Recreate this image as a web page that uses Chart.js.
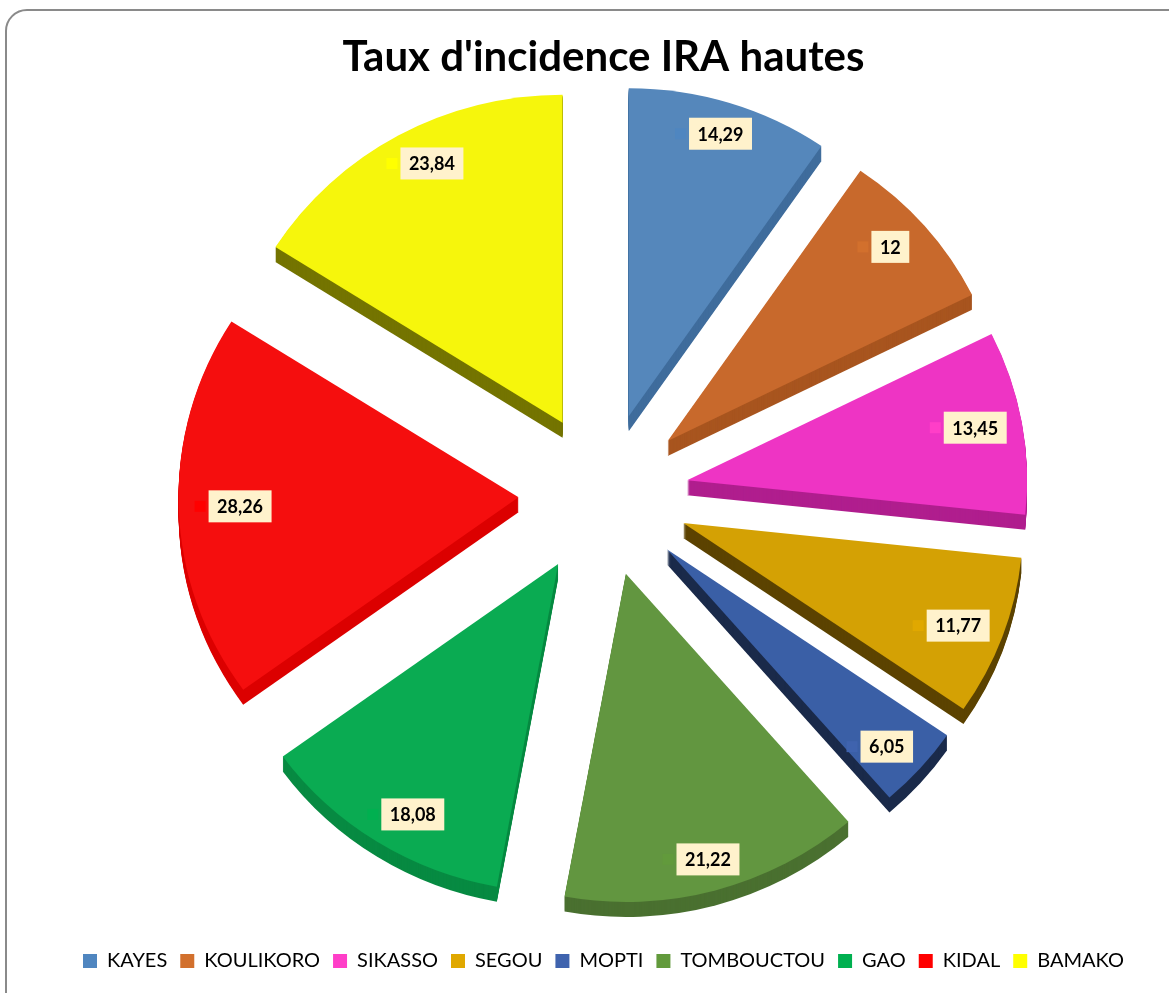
<!DOCTYPE html>
<html>
<head>
<meta charset="utf-8">
<title>Taux d'incidence IRA hautes</title>
<script src="https://cdn.jsdelivr.net/npm/chart.js@4/dist/chart.umd.min.js"></script>
<style>
  html, body { margin: 0; padding: 0; background: #fff; overflow: hidden; }
  #frame {
    position: absolute; left: 5px; top: 9px; width: 1190px; height: 1010px;
    border: 2px solid #8a8a8a; border-radius: 22px; box-sizing: border-box;
  }
  #wrap { position: absolute; left: 0; top: 0; width: 1169px; height: 993px; }
</style>
</head>
<body>
<div id="frame"></div>
<div id="wrap"><canvas id="chart" width="1169" height="993"></canvas></div>
<script>
const regions = ['KAYES', 'KOULIKORO', 'SIKASSO', 'SEGOU', 'MOPTI', 'TOMBOUCTOU', 'GAO', 'KIDAL', 'BAMAKO'];
const rates = [14.29, 12, 13.45, 11.77, 6.05, 21.22, 18.08, 28.26, 23.84];

const sliceColors = ['#5587bb', '#c8692c', '#ee34c4', '#d4a104', '#3a5fa6', '#629640', '#0aab52', '#f50e0e', '#f6f60c'];
const sideColors = ['#3f6c9c', '#a8551f', '#b01e8e', '#5c4300', '#1a2a4a', '#4a7030', '#078a42', '#dc0000', '#747400'];
const keyColors = ['#4f86c0', '#d2702d', '#ff3ec8', '#e0a800', '#3f63ae', '#629a3c', '#00b050', '#ff0000', '#ffff00'];

const TILT = 0.965;     // vertical squash of the tilted pie
const DEPTH = 15;       // thickness of the 3d side
const LABEL_POS = 0.84;
const LABEL_TILT = 1.02;

// pie slice pulled out along its bisector, with a darker extruded side
class ExplodedArc extends Chart.ArcElement {
    static id = 'explodedArc';
    draw(ctx) {
        const o = this.options;
        const a0 = this.startAngle, a1 = this.endAngle;
        const mid = (a0 + a1) / 2;
        const x = this.x + Math.cos(mid) * o.offset;
        const y = this.y + Math.sin(mid) * o.offset * TILT;
        const r = this.outerRadius;
        const path = (yy) => {
            ctx.beginPath();
            ctx.moveTo(x, yy);
            ctx.ellipse(x, yy, r, r * TILT, 0, a0, a1);
            ctx.closePath();
        };
        ctx.save();
        ctx.fillStyle = o.borderColor;
        for (let k = DEPTH; k > 0; k--) {
            path(y + k);
            ctx.fill();
        }
        path(y);
        ctx.fillStyle = o.backgroundColor;
        ctx.fill();
        ctx.restore();
    }
}

class ExplodedPie extends Chart.PieController {
    static id = 'explodedPie';
    static defaults = { dataElementType: 'explodedArc' };
}

Chart.register(ExplodedArc, ExplodedPie);

const sliceLabels = {
    id: 'sliceLabels',
    afterDatasetsDraw(chart) {
        const ctx = chart.ctx;
        const meta = chart.getDatasetMeta(0);
        ctx.save();
        ctx.font = 'bold 18px Lato';
        ctx.textAlign = 'center';
        ctx.textBaseline = 'middle';
        meta.data.forEach((arc, i) => {
            const mid = (arc.startAngle + arc.endAngle) / 2;
            const dist = arc.options.offset + arc.outerRadius * LABEL_POS;
            const x = arc.x + Math.cos(mid) * dist;
            const y = arc.y + Math.sin(mid) * dist * LABEL_TILT;
            const text = String(rates[i]).replace('.', ',');
            const w = ctx.measureText(text).width + 17;
            const h = 32;
            const left = x - (11 + 3 + w) / 2;
            ctx.fillStyle = keyColors[i];
            ctx.fillRect(left, y - 5.5, 11, 11);
            ctx.fillStyle = '#fff2cc';
            ctx.fillRect(left + 14, y - h / 2, w, h);
            ctx.fillStyle = '#000';
            ctx.fillText(text, left + 14 + w / 2, y + 1);
        });
        ctx.restore();
    }
};

new Chart(document.getElementById('chart'), {
    type: 'explodedPie',
    data: {
        labels: regions,
        datasets: [{
            data: rates,
            backgroundColor: sliceColors,
            borderColor: sideColors,
            borderWidth: 0,
            offset: 85,
            radius: 340
        }]
    },
    options: {
        responsive: false,
        animation: false,
        events: [],
        layout: { padding: { left: 38, right: 0, top: 0, bottom: 12 } },
        plugins: {
            title: {
                display: true,
                text: "Taux d'incidence IRA hautes",
                color: '#000',
                font: { family: 'Lato', size: 42, weight: 'bold' },
                padding: { top: 32, bottom: -31 }
            },
            legend: {
                position: 'bottom',
                labels: {
                    color: '#000',
                    font: { family: 'Lato', size: 20 },
                    boxWidth: 14,
                    boxHeight: 14,
                    padding: 13,
                    generateLabels: (chart) => regions.map((r, i) => ({
                        text: r,
                        fillStyle: keyColors[i],
                        strokeStyle: keyColors[i],
                        lineWidth: 0,
                        fontColor: '#000',
                        index: i
                    }))
                }
            },
            tooltip: { enabled: false }
        }
    },
    plugins: [sliceLabels]
});
</script>
</body>
</html>
